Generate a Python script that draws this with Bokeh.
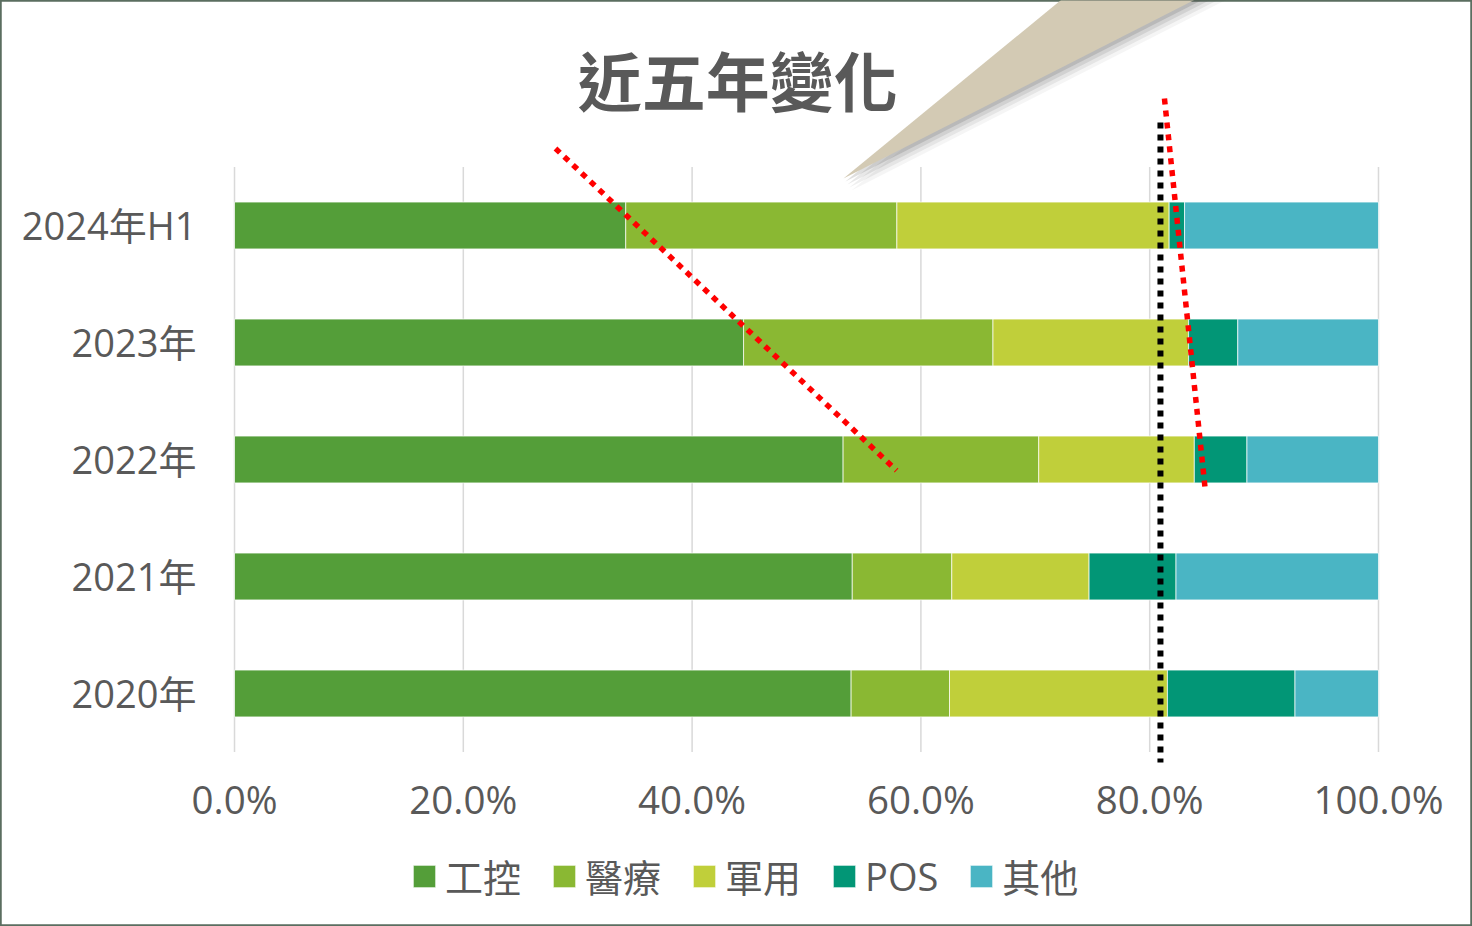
from bokeh.plotting import figure
from bokeh.models import Range1d, FixedTicker, Legend, LegendItem, Label, ColumnDataSource
from bokeh.embed import file_html
from bokeh.resources import INLINE

# ---- data ----
categories = ["2020年", "2021年", "2022年", "2023年", "2024年H1"]
series = ["工控", "醫療", "軍用", "POS", "其他"]
gongkong = [53.9, 54.0, 53.2, 44.5, 34.2]
yiliao = [8.6, 8.7, 17.1, 21.8, 23.7]
junyong = [19.05, 12.0, 13.6, 17.1, 23.8]
pos = [11.15, 7.6, 4.6, 4.3, 1.35]
qita = [7.3, 17.7, 11.5, 12.3, 16.95]
x_ticks = [0, 20, 40, 60, 80, 100]
x_tick_labels = ["0.0%", "20.0%", "40.0%", "60.0%", "80.0%", "100.0%"]
title_text = "近五年變化"

# ---- decoration (data units) ----
callout_x = [53.23, 73.78, 86.36]
callout_y = [4.402, 6.05, 6.05]
trend_left_x = [28.06, 57.87]
trend_left_y = [4.658, 1.906]
trend_right_x = [81.29, 84.88]
trend_right_y = [5.085, 1.718]
ref_line_x = [80.94, 80.94]
ref_line_y = [4.880, -0.59]

colors = ["#549E39", "#8AB833", "#C0CF3A", "#029676", "#4AB5C4"]
TEXT = "#595959"
FONT = "'Open Sans', 'Noto Sans CJK TC'"

ypos = list(range(len(categories)))
src = ColumnDataSource(dict(y=ypos, 工控=gongkong, 醫療=yiliao, 軍用=junyong, POS=pos, 其他=qita))

p = figure(width=1472, height=926, output_backend="svg", toolbar_location=None,
           x_range=Range1d(-20.455, 108.217), y_range=Range1d(-1.9915, 5.923),
           min_border_left=0, min_border_right=0, min_border_top=0, min_border_bottom=0,
           outline_line_color="#5B6E60", outline_line_width=2.5,
           background_fill_color="white", border_fill_color="white")
p.grid.visible = False

# gridlines (only over the category band)
p.segment(x0=x_ticks, y0=[-0.5] * len(x_ticks), x1=x_ticks, y1=[4.5] * len(x_ticks),
          line_color="#D9D9D9", line_width=1.5)

renderers = p.hbar_stack(series, y="y", height=0.4, source=src, color=colors,
                         line_color="white", line_width=1, line_alpha=0.7)

# callout with soft shadow
for k, a in [(4, 0.06), (3, 0.09), (2, 0.13), (1, 0.18)]:
    p.patch([v + k * 2.0 / 11.44 for v in callout_x], [v - k * 3.0 / 117 for v in callout_y],
            fill_color="#505050", fill_alpha=a, line_color=None)
p.patch(callout_x, callout_y, fill_color="#D3CAB4", line_color=None)

# dotted lines
p.line(ref_line_x, ref_line_y, line_color="black", line_width=6, line_dash="6 6")
p.line(trend_left_x, trend_left_y, line_color="#FF0000", line_width=5.5, line_dash="6 6")
p.line(trend_right_x, trend_right_y, line_color="#FF0000", line_width=5.5, line_dash="6 6")

# title
p.add_layout(Label(x=44.0, y=5.257, text=title_text, text_align="center", text_baseline="middle",
                   text_font="'Noto Sans CJK TC'", text_font_style="bold", text_font_size="64px",
                   text_color=TEXT))

# axes (drawn at fixed data locations inside the full-canvas frame)
xa = p.xaxis[0]
xa.fixed_location = -0.5
xa.ticker = FixedTicker(ticks=x_ticks)
xa.major_label_overrides = {t: l for t, l in zip(x_ticks, x_tick_labels)}
ya = p.yaxis[0]
ya.fixed_location = 0
ya.ticker = FixedTicker(ticks=ypos)
ya.major_label_overrides = {i: c for i, c in zip(ypos, categories)}
for ax in (xa, ya):
    ax.axis_line_color = None
    ax.major_tick_line_color = None
    ax.minor_tick_line_color = None
    ax.major_tick_out = 0
    ax.major_tick_in = 0
    ax.major_label_text_font = FONT
    ax.major_label_text_color = TEXT
xa.major_label_text_font_size = "38.5px"
ya.major_label_text_font_size = "38px"
xa.major_label_standoff = 21
ya.major_label_standoff = 38

legend = Legend(items=[LegendItem(label=s, renderers=[r]) for s, r in zip(series, renderers)],
                orientation="horizontal", location=(410, 23), margin=0, padding=0,
                glyph_width=28, glyph_height=28, label_standoff=7, spacing=29,
                label_text_font=FONT, label_text_font_size="38px", label_text_color=TEXT,
                border_line_color=None, background_fill_alpha=0)
p.add_layout(legend, "center")

open("out.html", "w").write(file_html(p, INLINE))
